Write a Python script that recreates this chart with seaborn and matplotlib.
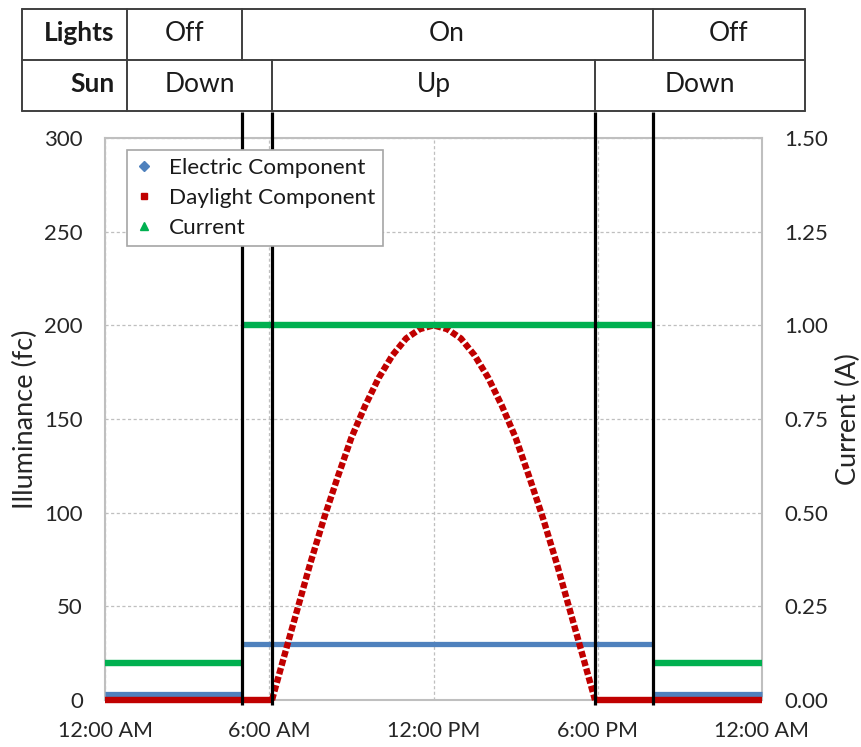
#!/usr/bin/env python3
"""
Daily illuminance profile: electric + daylight components and circuit current
"""

import numpy as np
import pandas as pd
import matplotlib
matplotlib.use("Agg")
import matplotlib.pyplot as plt
import seaborn as sns
from matplotlib import transforms
from matplotlib.lines import Line2D

# --- data ---
hour_ticks = [0, 6, 12, 18, 24]
hour_labels = ["12:00 AM", "6:00 AM", "12:00 PM", "6:00 PM", "12:00 AM"]

fc_ticks = [0, 50, 100, 150, 200, 250, 300]
amp_ticks = [0.0, 0.25, 0.5, 0.75, 1.0, 1.25, 1.5]

# lights on, sunrise, sunset, lights off (hours)
event_hours = [5.0, 6.1, 17.9, 20.0]

electric_hours = [0, 5, 5, 20, 20, 24]
electric_fc = [3, 3, 30, 30, 3, 3]
electric_seg = [0, 0, 1, 1, 2, 2]

current_hours = [0, 5, 5, 20, 20, 24]
current_amps = [0.1, 0.1, 1.0, 1.0, 0.1, 0.1]
current_seg = [0, 0, 1, 1, 2, 2]

daylight_hours = [0, 6.1, 6.5, 7, 7.5, 8, 8.5, 9, 9.5, 10, 10.5, 11, 11.5, 12,
                  12.5, 13, 13.5, 14, 14.5, 15, 15.5, 16, 16.5, 17, 17.5, 17.9, 24]
daylight_fc = [0, 0, 21, 47, 73, 97, 119, 140, 157, 172, 184, 193, 198, 200,
               198, 193, 184, 172, 157, 140, 119, 97, 73, 47, 21, 0, 0]

lights_states = ["Off", "On", "Off"]
sun_states = ["Down", "Up", "Down"]

# colours
BLUE = "#4F81BD"
RED = "#C00000"
GREEN = "#00B050"
GRID = "#BFBFBF"

sns.set_style("white")
plt.rcParams["font.family"] = ["Lato", "DejaVu Sans"]
plt.rcParams["text.color"] = "#1A1A1A"

fig = plt.figure(figsize=(8.61, 7.47), dpi=100)
ax = fig.add_axes([105 / 861, 1 - 700 / 747, 657 / 861, 562 / 747])
ax2 = ax.twinx()

# electric component
df_e = pd.DataFrame({"hour": electric_hours, "fc": electric_fc, "seg": electric_seg})
sns.lineplot(data=df_e, x="hour", y="fc", units="seg", estimator=None, ax=ax,
             color=BLUE, lw=3.8, legend=False, zorder=3)

# daylight component: flat night parts solid, the daytime arc broken into squares
df_d = pd.DataFrame({"hour": daylight_hours, "fc": daylight_fc})
night = df_d[(df_d["hour"] <= event_hours[1]) | (df_d["hour"] >= event_hours[2])].copy()
night["seg"] = (night["hour"] > 12).astype(int)
sns.lineplot(data=night, x="hour", y="fc", units="seg", estimator=None, ax=ax,
             color=RED, lw=4.6, legend=False, zorder=4)
day = df_d[(df_d["hour"] >= event_hours[1]) & (df_d["hour"] <= event_hours[2])]
sns.lineplot(data=day, x="hour", y="fc", ax=ax, color=RED, lw=4.6,
             legend=False, zorder=4, estimator=None)
ax.lines[-1].set_linestyle((0, (1.0, 0.4)))

# current on the secondary axis
df_c = pd.DataFrame({"hour": current_hours, "amps": current_amps, "seg": current_seg})
sns.lineplot(data=df_c, x="hour", y="amps", units="seg", estimator=None, ax=ax2,
             color=GREEN, lw=4.6, legend=False, zorder=3)

for ln in ax.lines + ax2.lines:
    ln.set_solid_capstyle("butt")
    ln.set_clip_on(False)

# axes
ax.set_xlim(0, 24)
ax.set_ylim(0, 300)
ax2.set_ylim(0, 1.5)
ax.set_xticks(hour_ticks)
ax.set_xticklabels(hour_labels)
ax.set_yticks(fc_ticks)
ax2.set_yticks(amp_ticks)
ax2.set_yticklabels([f"{v:.2f}" for v in amp_ticks])
ax.set_xlabel("")
ax.tick_params(axis="y", length=0, pad=16, labelsize=16)
ax.tick_params(axis="x", length=0, pad=15, labelsize=15.5)
ax2.tick_params(axis="y", length=0, pad=16, labelsize=16)

ax.grid(True, color=GRID, ls=(0, (2.5, 2)), lw=0.9)
for sp in ax.spines.values():
    sp.set_color(GRID)
    sp.set_linewidth(1.5)
for sp in ax2.spines.values():
    sp.set_visible(False)

ax.set_ylabel("Illuminance (fc)", fontsize=19.5, va="center")
ax.yaxis.set_label_coords(-0.1218, 0.5)
ax2.set_ylabel("Current (A)", fontsize=19.5, va="center", rotation=90)
ax2.yaxis.set_label_coords(1.131, 0.5)

# event lines and the state table above the plot
tr = transforms.blended_transform_factory(ax2.transData, ax2.transAxes)
for h in event_hours:
    ax2.plot([h, h], [-0.009, 1.046], transform=tr, color="black", lw=2.3,
             clip_on=False, zorder=5, solid_capstyle="butt")

TBL = "#3F3F3F"
tbl_left, label_div, tbl_right = -3.03, 0.80, 25.57
y_top, y_mid, y_bot = 1.2295, 1.1388, 1.048
for y in (y_top, y_mid, y_bot):
    ax2.plot([tbl_left, tbl_right], [y, y], transform=tr, color=TBL, lw=1.4, clip_on=False)
for x in (tbl_left, label_div, tbl_right):
    ax2.plot([x, x], [y_bot, y_top], transform=tr, color=TBL, lw=1.4, clip_on=False)

lights_edges = [label_div, event_hours[0], event_hours[3], tbl_right]
sun_edges = [label_div, event_hours[1], event_hours[2], tbl_right]
for x in lights_edges[1:-1]:
    ax2.plot([x, x], [y_mid, y_top], transform=tr, color=TBL, lw=1.4, clip_on=False)
for x in sun_edges[1:-1]:
    ax2.plot([x, x], [y_bot, y_mid], transform=tr, color=TBL, lw=1.4, clip_on=False)

row_y = [(y_top + y_mid) / 2 + 0.002, (y_mid + y_bot) / 2 + 0.002]
ax2.text(label_div - 0.45, row_y[0], "Lights", transform=tr, ha="right", va="center",
         fontsize=19, fontweight="bold")
ax2.text(label_div - 0.45, row_y[1], "Sun", transform=tr, ha="right", va="center",
         fontsize=19, fontweight="bold")
for i, s in enumerate(lights_states):
    xc = (lights_edges[i] + lights_edges[i + 1]) / 2
    ax2.text(xc, row_y[0], s, transform=tr, ha="center", va="center", fontsize=19)
for i, s in enumerate(sun_states):
    xc = (sun_edges[i] + sun_edges[i + 1]) / 2
    ax2.text(xc, row_y[1], s, transform=tr, ha="center", va="center", fontsize=19)

# legend
handles = [
    Line2D([], [], ls="none", marker="D", ms=5, color=BLUE),
    Line2D([], [], ls="none", marker="s", ms=5, color=RED),
    Line2D([], [], ls="none", marker="^", ms=6, color=GREEN),
]
labels = ["Electric Component", "Daylight Component", "Current"]
leg = fig.legend(handles, labels, loc="upper left",
                 bbox_to_anchor=(127 / 861, 1 - 150 / 747), borderaxespad=0,
                 frameon=True, fancybox=False, framealpha=1, edgecolor="#A6A6A6",
                 fontsize=16.2, handlelength=0.8, handletextpad=0.7,
                 borderpad=0.35, labelspacing=0.45)
leg.get_frame().set_linewidth(1.2)

fig.savefig("out.png", dpi=100)
